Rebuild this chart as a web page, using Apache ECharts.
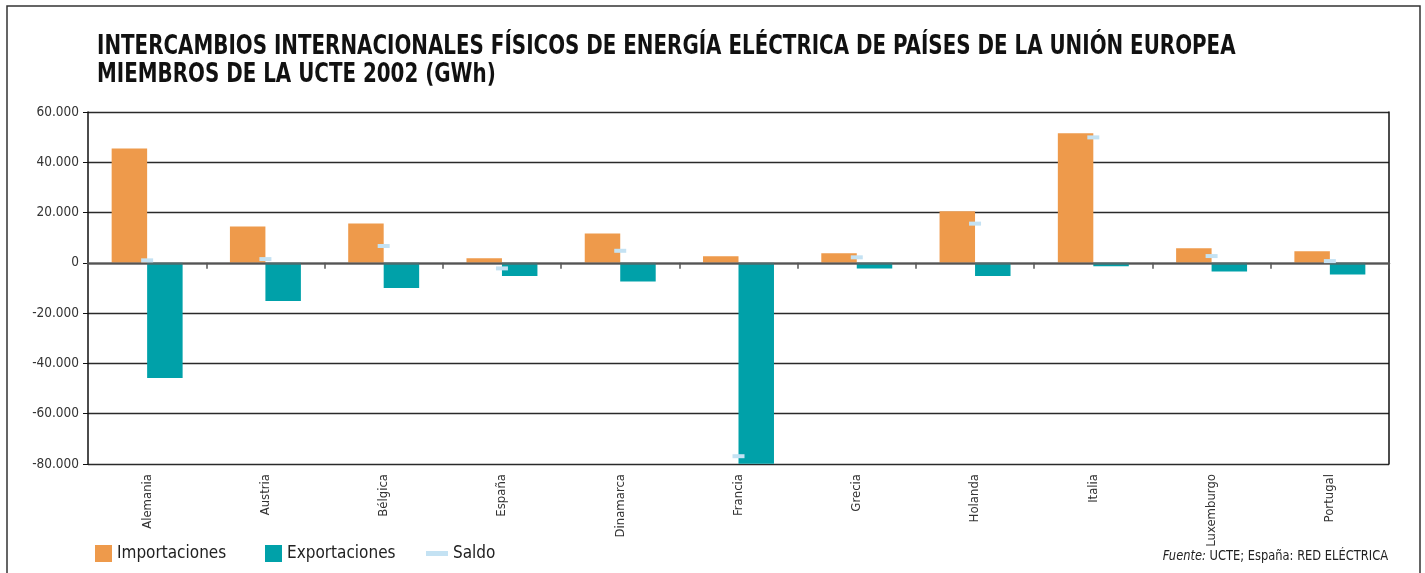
<!DOCTYPE html>
<html>
<head>
<meta charset="utf-8">
<title>Intercambios internacionales físicos de energía eléctrica UCTE 2002</title>
<script src="https://cdn.jsdelivr.net/npm/echarts@6/dist/echarts.min.js"></script>
<style>
  html, body { margin: 0; padding: 0; background: #ffffff; }
  #chart { width: 1425px; height: 573px; }
</style>
</head>
<body>
<div id="chart"></div>
<script>
// Países miembros de la UCTE (UE), 2002 — valores en GWh
const paises = ['Alemania', 'Austria', 'Bélgica', 'España', 'Dinamarca', 'Francia',
                'Grecia', 'Holanda', 'Italia', 'Luxemburgo', 'Portugal'];
const importaciones = [45500, 14500, 15700, 1800, 11700, 2600, 3800, 20500, 51500, 5800, 4600];
const exportaciones = [-45800, -15200, -10000, -5200, -7400, -79900, -2200, -5200, -1300, -3400, -4600];
const saldo = [1000, 1500, 6700, -2200, 4800, -76900, 2200, 15600, 49900, 2700, 700];

const yMin = -80000;
const yMax = 60000;
const yStep = 20000;

const titulo = 'INTERCAMBIOS INTERNACIONALES FÍSICOS DE ENERGÍA ELÉCTRICA DE PAÍSES DE LA UNIÓN EUROPEA\nMIEMBROS DE LA UCTE 2002 (GWh)';

const FONT = '"Liberation Sans Narrow", "Arial Narrow", "DejaVu Sans Condensed", "Liberation Sans", sans-serif';
const COL_IMP = '#EE9A4B';
const COL_EXP = '#00A1A9';
const COL_SAL = '#C4E2F3';

// 60000 -> "60.000"
function miles(v) {
  const s = Math.abs(v).toString().replace(/\B(?=(\d{3})+(?!\d))/g, '.');
  return (v < 0 ? '-' : '') + s;
}

const chart = echarts.init(document.getElementById('chart'), null, { renderer: 'canvas' });

const legendText = { fontFamily: FONT, fontSize: 17, color: '#222222' };

const option = {
  backgroundColor: '#ffffff',
  animation: false,
  textStyle: { fontFamily: FONT },
  legend: [
    {
      data: ['Importaciones'],
      left: 95, top: 545, padding: 0,
      itemWidth: 17, itemHeight: 17,
      icon: 'rect',
      textStyle: legendText
    },
    {
      data: ['Exportaciones'],
      left: 265, top: 545, padding: 0,
      itemWidth: 17, itemHeight: 17,
      icon: 'rect',
      textStyle: legendText
    },
    {
      data: [{ name: 'Saldo', icon: 'rect' }],
      left: 426, top: 545, padding: 0,
      itemWidth: 22, itemHeight: 5,
      itemStyle: { color: COL_SAL },
      textStyle: legendText
    }
  ],
  grid: { left: 88, right: 36, top: 112, bottom: 109, containLabel: false },
  xAxis: [
    {
      // eje en el cero: línea gris y marcas entre países
      type: 'category',
      data: paises,
      z: 5,
      axisLine: { onZero: true, lineStyle: { color: 'rgba(95,95,95,0.8)', width: 2.5 } },
      axisTick: { show: true, length: 6, lineStyle: { color: '#555555', width: 1.5 } },
      axisLabel: { show: false },
      splitLine: { show: false }
    },
    {
      // nombres de los países bajo el área de trazado
      type: 'category',
      data: paises,
      position: 'bottom',
      axisLine: { show: false, onZero: false },
      axisTick: { show: false },
      axisLabel: {
        rotate: 90,
        margin: 10,
        fontFamily: FONT,
        fontSize: 13,
        color: '#333333'
      },
      splitLine: { show: false }
    }
  ],
  yAxis: [
    {
      type: 'value',
      min: yMin,
      max: yMax,
      interval: yStep,
      axisLine: { show: true, lineStyle: { color: '#111111', width: 1.5 } },
      axisTick: { show: true, length: 5, lineStyle: { color: '#111111' } },
      axisLabel: {
        formatter: miles,
        margin: 9,
        fontFamily: FONT,
        fontSize: 13.5,
        color: '#333333'
      },
      splitLine: { show: true, lineStyle: { color: '#2a2a2a', width: 1.3 } }
    },
    {
      // borde derecho del área de trazado
      type: 'value',
      position: 'right',
      min: yMin,
      max: yMax,
      interval: yStep,
      axisLine: { show: true, lineStyle: { color: '#111111', width: 1.5 } },
      axisTick: { show: false },
      axisLabel: { show: false },
      splitLine: { show: false }
    }
  ],
  series: [
    {
      name: 'Importaciones',
      type: 'bar',
      xAxisIndex: 0,
      yAxisIndex: 0,
      data: importaciones,
      barGap: '0%',
      barCategoryGap: '40%',
      itemStyle: { color: COL_IMP },
      z: 2
    },
    {
      name: 'Exportaciones',
      type: 'bar',
      xAxisIndex: 0,
      yAxisIndex: 0,
      data: exportaciones,
      barGap: '0%',
      barCategoryGap: '40%',
      itemStyle: { color: COL_EXP },
      z: 2
    },
    {
      name: 'Saldo',
      type: 'line',
      xAxisIndex: 0,
      yAxisIndex: 0,
      data: saldo,
      symbol: 'rect',
      symbolSize: [12, 4],
      showSymbol: true,
      lineStyle: { width: 0, opacity: 0 },
      itemStyle: { color: COL_SAL, opacity: 1 },
      z: 6
    }
  ],
  graphic: [
    {
      // marco exterior
      type: 'rect',
      shape: { x: 7, y: 6, width: 1413, height: 600 },
      style: { fill: 'none', stroke: '#333333', lineWidth: 1.5 },
      silent: true,
      z: 10
    },
    {
      // título en dos líneas, comprimido horizontalmente
      type: 'text',
      x: 97,
      y: 33,
      scaleX: 0.85,
      style: {
        text: titulo,
        font: 'bold 26px ' + FONT,
        lineHeight: 28,
        fill: '#111111',
        textAlign: 'left',
        textVerticalAlign: 'top'
      }
    },
    {
      // fuente
      type: 'text',
      x: 1388,
      y: 556,
      scaleX: 0.88,
      style: {
        text: '{i|Fuente:} UCTE; España: RED ELÉCTRICA',
        rich: {
          i: { fontFamily: FONT, fontStyle: 'italic', fontSize: 14.5, fill: '#222222' }
        },
        font: '14.5px ' + FONT,
        fill: '#222222',
        textAlign: 'right',
        textVerticalAlign: 'middle'
      }
    }
  ]
};

chart.setOption(option);
</script>
</body>
</html>
